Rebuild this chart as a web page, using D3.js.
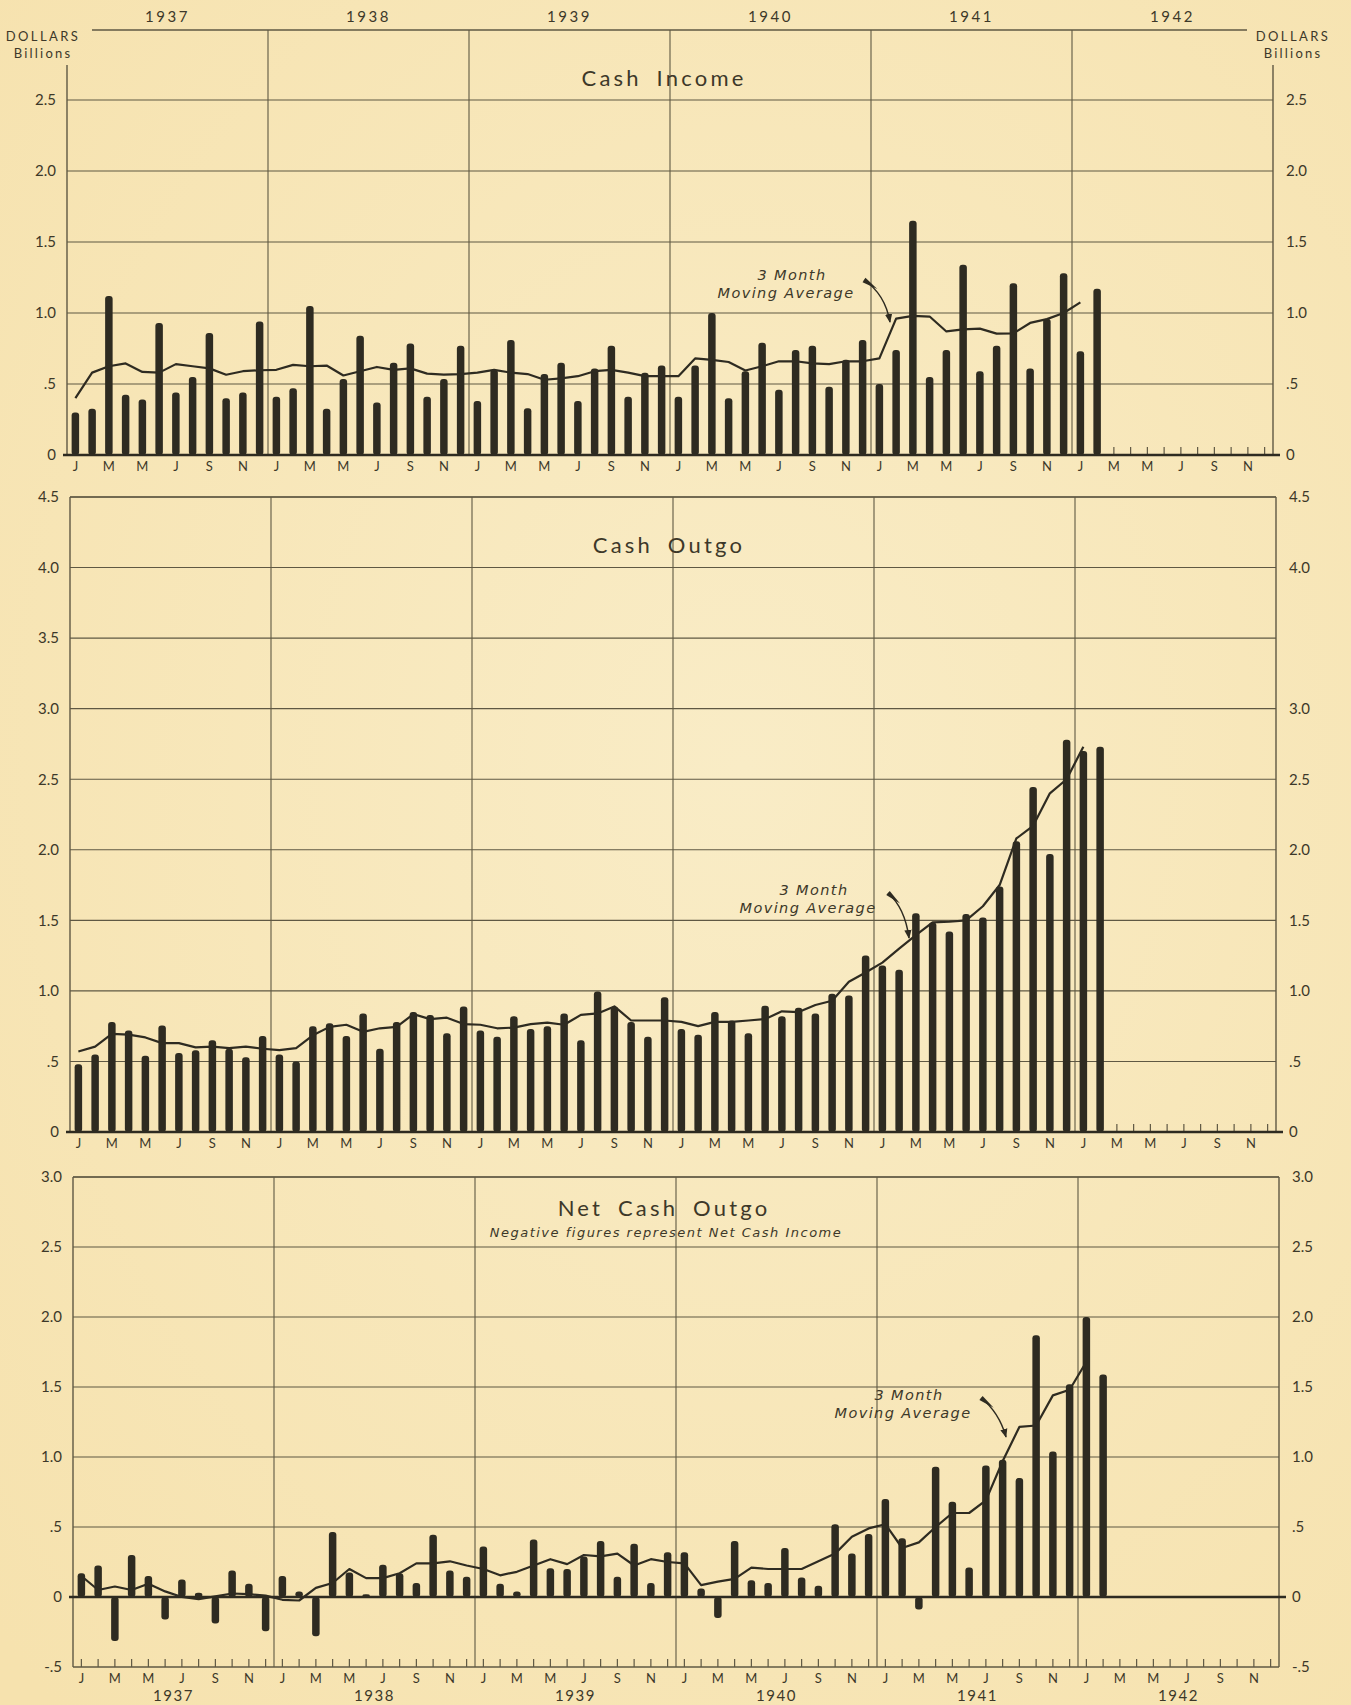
<!DOCTYPE html>
<html><head><meta charset="utf-8">
<script src="https://cdn.jsdelivr.net/npm/d3@7"></script>
<style>
html,body{margin:0;padding:0;background:#f6e7bd;}
svg{display:block;font-family:Lato,"Open Sans",sans-serif;}
</style></head>
<body>
<script>
// ---------- DATA (billions of dollars, monthly Jan 1937 – Feb 1942) ----------
const years = ["1937","1938","1939","1940","1941","1942"];
const monthLetters = ["J","F","M","A","M","J","J","A","S","O","N","D"];

const cashIncome = [
  .30,.325,1.12,.425,.39,.93,.44,.55,.86,.40,.44,.94,
  .41,.47,1.05,.325,.535,.84,.37,.65,.785,.41,.535,.77,
  .38,.60,.81,.33,.57,.65,.38,.61,.77,.41,.58,.63,
  .41,.63,1.0,.40,.59,.79,.46,.74,.77,.48,.67,.81,
  .50,.74,1.65,.55,.74,1.34,.59,.77,1.21,.61,.96,1.28,
  .73,1.17];
const incomeMA = [
  .40,.58,.625,.645,.585,.58,.64,.625,.61,.565,.59,.597,
  .60,.635,.625,.63,.56,.59,.62,.60,.61,.573,.566,.57,
  .58,.60,.58,.57,.53,.54,.555,.59,.60,.58,.555,.555,
  .555,.68,.67,.655,.595,.625,.66,.66,.645,.64,.66,.66,
  .68,.96,.98,.975,.87,.885,.89,.855,.857,.93,.957,1.0,
  1.075];

const cashOutgo = [
  .48,.55,.78,.72,.54,.755,.56,.58,.65,.59,.53,.68,
  .55,.50,.75,.77,.68,.84,.59,.78,.85,.83,.70,.89,
  .72,.675,.82,.73,.75,.84,.65,.995,.89,.78,.675,.955,
  .73,.69,.85,.79,.70,.895,.82,.88,.84,.98,.967,1.25,
  1.18,1.15,1.55,1.485,1.42,1.545,1.52,1.74,2.06,2.445,1.97,2.78,
  2.70,2.73];
const outgoMA = [
  .57,.605,.695,.69,.67,.63,.63,.60,.605,.595,.605,.59,
  .58,.595,.685,.745,.76,.71,.735,.745,.835,.80,.81,.765,
  .76,.735,.74,.765,.775,.76,.83,.84,.89,.79,.79,.79,
  .78,.75,.78,.78,.79,.80,.855,.85,.90,.93,1.065,1.13,
  1.20,1.30,1.395,1.485,1.49,1.50,1.60,1.75,2.08,2.17,2.40,2.50,
  2.73];

const netOutgo = [
  .17,.225,-.315,.30,.15,-.16,.125,.03,-.19,.19,.095,-.245,
  .15,.04,-.28,.465,.175,.02,.23,.17,.10,.445,.19,.145,
  .36,.095,.04,.41,.205,.20,.29,.40,.145,.38,.10,.32,
  .32,.06,-.15,.40,.12,.10,.35,.14,.08,.52,.31,.45,
  .70,.42,-.09,.93,.68,.21,.94,.98,.85,1.87,1.04,1.52,
  2.0,1.59];
const netMA = [
  .15,.05,.075,.05,.095,.04,0,-.015,.005,.025,.02,.01,
  -.02,-.025,.065,.10,.20,.135,.135,.17,.24,.24,.255,.225,
  .20,.155,.18,.225,.27,.235,.30,.29,.31,.225,.27,.25,
  .24,.085,.11,.13,.21,.20,.20,.20,.255,.31,.43,.49,
  .52,.35,.39,.50,.60,.60,.69,.97,1.215,1.225,1.44,1.48,
  1.68];

const incomeTicks = [0,.5,1,1.5,2,2.5];
const outgoTicks = [0,.5,1,1.5,2,2.5,3,3.5,4,4.5];
const outgoTicksRight = [0,.5,1,1.5,2,2.5,3,4,4.5];
const netTicks = [-.5,0,.5,1,1.5,2,2.5,3];

// ---------- STYLE / LAYOUT ----------
const W = 1351, H = 1705;
const INK = "#2e2b21", GRID = "#5f5843", TXT = "#3d3829";
const ITAL = "'DejaVu Sans', sans-serif";
const nMonths = 72, barW = 7.5;

const svg = d3.select("body").append("svg").attr("width", W).attr("height", H);
const defs = svg.append("defs");
const rg = defs.append("radialGradient").attr("id","paper").attr("cx","55%").attr("cy","45%").attr("r","75%");
rg.append("stop").attr("offset","0%").attr("stop-color","#f9ecc6");
rg.append("stop").attr("offset","100%").attr("stop-color","#f6e2ae");
svg.append("rect").attr("width",W).attr("height",H).attr("fill","url(#paper)");
defs.append("marker").attr("id","arrow").attr("viewBox","0 0 10 10").attr("refX",9).attr("refY",5)
  .attr("markerWidth",6).attr("markerHeight",6).attr("orient","auto")
  .append("path").attr("d","M0,1 L10,5 L0,9 Z").attr("fill",INK);

function fmt(v){
  if (v === 0) return "0";
  if (Math.abs(v) < 1) return (v < 0 ? "-" : "") + String(Math.abs(v)).replace(/^0/,"");
  return v.toFixed(1);
}

function drawPanel(cfg, values, ma, ticksL, ticksR){
  const g = svg.append("g");
  const x = d3.scaleBand().domain(d3.range(nMonths)).range([cfg.x0, cfg.x0 + 1206]);
  const y = d3.scaleLinear().domain(cfg.domain).range([cfg.yBottom, cfg.yTop]);
  const cx = i => x(i) + x.bandwidth()/2;
  const xL = cfg.x0, xR = cfg.x0 + 1206;

  // horizontal grid
  g.selectAll(".hg").data(ticksL.filter(v => v !== 0 && v !== cfg.domain[0]))
    .join("line").attr("x1", xL).attr("x2", xR).attr("y1", d => y(d)).attr("y2", d => y(d))
    .attr("stroke", GRID).attr("stroke-width", 1.1);
  // vertical year lines
  g.selectAll(".vg").data([12,24,36,48,60]).join("line")
    .attr("x1", d => x(d)).attr("x2", d => x(d))
    .attr("y1", cfg.gridTop).attr("y2", y(cfg.domain[0]))
    .attr("stroke", GRID).attr("stroke-width", 1.1);
  // side axes
  [xL, xR].forEach(xx => g.append("line").attr("x1",xx).attr("x2",xx)
    .attr("y1", cfg.axisTop).attr("y2", y(cfg.domain[0])).attr("stroke", GRID).attr("stroke-width",1.4));

  // month ticks
  const tickBase = y(cfg.domain[0]);
  g.selectAll(".mt").data(d3.range(nMonths)).join("line")
    .attr("x1", cx).attr("x2", cx).attr("y1", tickBase).attr("y2", tickBase - 8)
    .attr("stroke", GRID).attr("stroke-width", 1.2);

  // bars
  g.selectAll(".bar").data(values).join("rect")
    .attr("x", (d,i) => cx(i) - barW/2).attr("width", barW)
    .attr("y", d => y(Math.max(0,d))).attr("height", d => Math.abs(y(d) - y(0)))
    .attr("rx", 3).attr("fill", INK);

  // baseline (zero)
  g.append("line").attr("x1", xL - 4).attr("x2", xR + 7).attr("y1", y(0)).attr("y2", y(0))
    .attr("stroke", INK).attr("stroke-width", 2.6);
  if (cfg.domain[0] < 0)
    g.append("line").attr("x1", xL).attr("x2", xR).attr("y1", tickBase).attr("y2", tickBase)
      .attr("stroke", GRID).attr("stroke-width", 1.6);

  // moving average
  g.append("path").datum(ma)
    .attr("d", d3.line().x((d,i) => cx(i)).y(d => y(d)))
    .attr("fill","none").attr("stroke", INK).attr("stroke-width", 2.2).attr("stroke-linejoin","round");

  // value axes
  const la = g.append("g").attr("transform", `translate(${xL - 8},0)`)
    .call(d3.axisLeft(y).tickValues(ticksL).tickFormat(fmt).tickSize(0));
  const ra = g.append("g").attr("transform", `translate(${xR + 10},0)`)
    .call(d3.axisRight(y).tickValues(ticksR).tickFormat(fmt).tickSize(0));
  [la, ra].forEach(a => {
    a.select(".domain").remove();
    a.selectAll("text").attr("font-size", 15).attr("fill", TXT).attr("font-family","Lato, sans-serif");
  });

  // month letters
  const mAx = g.append("g").attr("transform", `translate(0,${tickBase + 4})`)
    .call(d3.axisBottom(x).tickValues(d3.range(0, nMonths, 2)).tickFormat(i => monthLetters[i % 12]).tickSize(0));
  mAx.select(".domain").remove();
  mAx.selectAll("text").attr("font-size", 13).attr("fill", TXT).attr("font-family","Lato, sans-serif");

  // titles
  g.append("text").attr("x", cfg.titleX).attr("y", cfg.titleY).attr("text-anchor","middle")
    .attr("font-size", 22).attr("letter-spacing", 3.2).attr("word-spacing", 6).attr("fill", TXT).text(cfg.title);
  if (cfg.subtitle)
    g.append("text").attr("x", cfg.titleX + 2).attr("y", cfg.titleY + 21).attr("text-anchor","middle")
      .attr("font-size", 13).attr("font-style","italic").attr("font-family", ITAL)
      .attr("letter-spacing", 1.5).attr("fill", TXT).text(cfg.subtitle);

  // annotation
  const a = cfg.ann;
  g.append("text").attr("x", a.tx).attr("y", a.ty).attr("text-anchor","middle")
    .attr("font-size", 14.5).attr("font-style","italic").attr("font-family", ITAL)
    .attr("letter-spacing", 1.4).attr("fill", TXT).text("3 Month");
  g.append("text").attr("x", a.tx - 6).attr("y", a.ty + 18).attr("text-anchor","middle")
    .attr("font-size", 14.5).attr("font-style","italic").attr("font-family", ITAL)
    .attr("letter-spacing", 1.4).attr("fill", TXT).text("Moving Average");
  const p = d3.path();
  p.moveTo(a.x1, a.y1);
  p.quadraticCurveTo(a.cx, a.cy, a.x2, a.y2);
  g.append("path").attr("d", p.toString()).attr("fill","none").attr("stroke", INK)
    .attr("stroke-width", 1.5).attr("marker-end","url(#arrow)");
  // tapered tail wedge
  const dx = a.cx - a.x1, dy = a.cy - a.y1, L = Math.hypot(dx, dy);
  const ux = dx / L, uy = dy / L, nx = -uy, ny = ux;
  g.append("path").attr("d",
    `M${a.x1 + nx*2.6},${a.y1 + ny*2.6} L${a.x1 + ux*16},${a.y1 + uy*16} L${a.x1 - nx*2.6},${a.y1 - ny*2.6} Z`)
    .attr("fill", INK);

  return {x, y};
}

// ---------- PANEL 1: Cash Income ----------
const p1 = drawPanel({
  x0: 67, domain: [0, 2.5], yBottom: 455, yTop: 100, gridTop: 30, axisTop: 65,
  title: "Cash Income", titleX: 664, titleY: 86,
  ann: {tx: 792, ty: 280, x1: 864, y1: 280, cx: 885, cy: 294, x2: 890, y2: 322}
}, cashIncome, incomeMA, incomeTicks, incomeTicks);
// header line and year labels
svg.append("line").attr("x1", 92).attr("x2", 1247).attr("y1", 30).attr("y2", 30).attr("stroke", GRID).attr("stroke-width", 1.6);
svg.selectAll(".yr1").data(years).join("text")
  .attr("x", (d,i) => p1.x(i*12) + 100.5).attr("y", 22).attr("text-anchor","middle")
  .attr("font-size", 15).attr("letter-spacing", 2.5).attr("fill", TXT).text(d => d);
[43, 1293].forEach(cx => {
  svg.append("text").attr("x", cx).attr("y", 41).attr("text-anchor","middle").attr("font-size", 13)
    .attr("letter-spacing", 2.4).attr("fill", TXT).text("DOLLARS");
  svg.append("text").attr("x", cx).attr("y", 58).attr("text-anchor","middle").attr("font-size", 13)
    .attr("letter-spacing", 2.2).attr("fill", TXT).text("Billions");
});

// ---------- PANEL 2: Cash Outgo ----------
const p2 = drawPanel({
  x0: 70, domain: [0, 4.5], yBottom: 1132, yTop: 497, gridTop: 497, axisTop: 497,
  title: "Cash Outgo", titleX: 669, titleY: 553,
  ann: {tx: 814, ty: 895, x1: 888, y1: 893, cx: 905, cy: 908, x2: 909, y2: 938}
}, cashOutgo, outgoMA, outgoTicks, outgoTicksRight);
svg.append("line").attr("x1", 70).attr("x2", 1276).attr("y1", 497).attr("y2", 497).attr("stroke", GRID).attr("stroke-width", 1.4);

// ---------- PANEL 3: Net Cash Outgo ----------
const p3 = drawPanel({
  x0: 73, domain: [-0.5, 3], yBottom: 1667, yTop: 1177, gridTop: 1177, axisTop: 1177,
  title: "Net Cash Outgo", titleX: 664, titleY: 1216,
  subtitle: "Negative figures represent Net Cash Income",
  ann: {tx: 909, ty: 1400, x1: 981, y1: 1398, cx: 999, cy: 1412, x2: 1006, y2: 1437}
}, netOutgo, netMA, netTicks, netTicks);
svg.append("line").attr("x1", 73).attr("x2", 1279).attr("y1", 1177).attr("y2", 1177).attr("stroke", GRID).attr("stroke-width", 1.4);
svg.selectAll(".yr3").data(years).join("text")
  .attr("x", (d,i) => p3.x(i*12) + 100.5).attr("y", 1701).attr("text-anchor","middle")
  .attr("font-size", 15).attr("letter-spacing", 1.5).attr("fill", TXT).text(d => d);
</script>
</body></html>
